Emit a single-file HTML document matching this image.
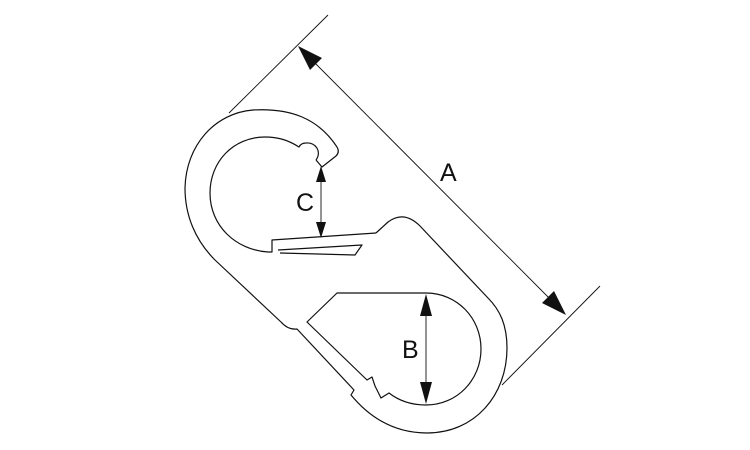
<!DOCTYPE html>
<html><head><meta charset="utf-8"><style>
html,body{margin:0;padding:0;background:#fff;}
svg{display:block;}
text{font-family:"Liberation Sans",Arial,sans-serif;font-size:25px;fill:#111;}
</style></head><body>
<svg width="750" height="450" viewBox="0 0 750 450" xmlns="http://www.w3.org/2000/svg">
<g fill="none" stroke="#111" stroke-width="1.2" stroke-linejoin="round">
<line x1="229" y1="113" x2="328" y2="15" stroke-width="0.9"/>
<line x1="502" y1="385" x2="600" y2="286" stroke-width="0.9"/>
<line x1="300" y1="48" x2="564" y2="313" stroke-width="0.9"/>
<path d="M337,147 C318,118 290,108 253,110 C215,113 186,145 185,188 C185,215 195,240 215,260 L281,322 Q288,330 297,329 L354,390 L351,395 C370,418 395,433 427,433 C475,433 507,395 507,348 C507,325 500,310 488,298 L420,226 Q404,210 388,222 L376,233"/>
<path d="M337,147 Q340,152 336,156 L322,167 L316,160"/>
<path d="M316,160 C322,152 316,142 306,143 C302,143 300,145 299,147 C288,140 278,137 265,137 C233,137 210,162 210,193 C210,226 236,250 268,252 L272,252 L272,240 L376,233"/>
<path d="M278,250 L362,245 L355,255 L280,253"/>
<path d="M337,293 L426,293 C457,293 481,318 481,349 C481,380 457,405 426,405 C410,405 398,400 389,393 L381,398 L375,386 L372,377 L367,380 L307,322 Z"/>
<line x1="321" y1="178" x2="321" y2="226" stroke-width="0.9"/>
<line x1="426" y1="310" x2="426" y2="390" stroke-width="0.9"/>
</g>
<g fill="#111" stroke="none">
<polygon points="298,46 322,58 310,70"/>
<polygon points="566,315 542,303 554,291"/>
<polygon points="321,166 316,182 326,182"/>
<polygon points="321,238 316,222 326,222"/>
<polygon points="426,294 420,316 432,316"/>
<polygon points="426,404 420,382 432,382"/>
</g>
<text x="440" y="181">A</text>
<text x="296" y="211">C</text>
<text x="402" y="358">B</text>
</svg>
</body></html>
